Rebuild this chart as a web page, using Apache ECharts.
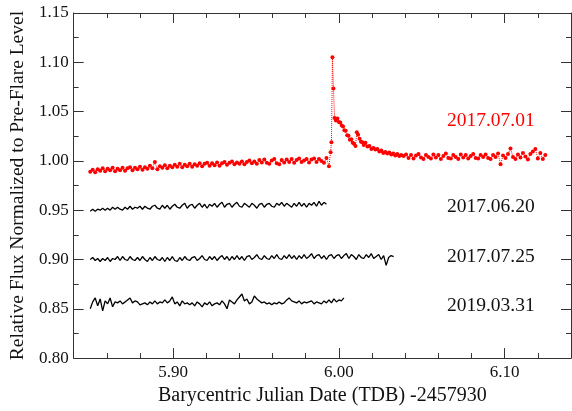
<!DOCTYPE html>
<html><head><meta charset="utf-8">
<script src="https://cdn.jsdelivr.net/npm/echarts@6/dist/echarts.min.js"></script>
<style>html,body{margin:0;padding:0;background:#fff}#c{width:572px;height:411px}</style>
</head><body><div id="c"></div>
<script>
// ---- data ----
const xMajorTicks = [5.90, 6.00, 6.10];
const xMinorTicks = [5.86, 5.88, 5.92, 5.94, 5.96, 5.98, 6.02, 6.04, 6.06, 6.08, 6.12];
const seriesNames = ['2017.07.01', '2017.06.20', '2017.07.25', '2019.03.31'];

const obsTime = [
5.8500,5.8515,5.8530,5.8545,5.8560,5.8575,5.8590,5.8605,5.8620,5.8635,
5.8650,5.8665,5.8680,5.8695,5.8710,5.8725,5.8740,5.8755,5.8770,5.8785,
5.8800,5.8815,5.8830,5.8845,5.8860,5.8875,5.8890,5.8905,5.8920,5.8935,
5.8950,5.8965,5.8980,5.8995,5.9010,5.9025,5.9040,5.9055,5.9070,5.9085,
5.9100,5.9115,5.9130,5.9145,5.9160,5.9175,5.9190,5.9205,5.9220,5.9235,
5.9250,5.9265,5.9280,5.9295,5.9310,5.9325,5.9340,5.9355,5.9370,5.9385,
5.9400,5.9415,5.9430,5.9445,5.9460,5.9475,5.9490,5.9505,5.9520,5.9535,
5.9550,5.9565,5.9580,5.9595,5.9610,5.9625,5.9640,5.9655,5.9670,5.9685,
5.9700,5.9715,5.9730,5.9745,5.9760,5.9775,5.9790,5.9805,5.9820,5.9835,
5.9850,5.9865,5.9880,5.9895,5.9910,5.9925,5.9940,5.9955,5.9970,5.9985,
6.0000,6.0015,6.0030,6.0045,6.0060,6.0075,6.0090,6.0105,6.0120,6.0135,
6.0150,6.0165,6.0180,6.0195,6.0210,6.0225,6.0240,6.0255,6.0270,6.0285,
6.0300,6.0315,6.0330];

// 2017.07.01 (flare night) - pre-flare part on obsTime grid
const redPreFlux = [
0.9890,0.9910,0.9885,0.9915,0.9900,0.9925,0.9895,0.9920,0.9905,0.9930,
0.9895,0.9920,0.9905,0.9930,0.9900,0.9925,0.9935,0.9905,0.9930,0.9915,
0.9940,0.9910,0.9935,0.9920,0.9950,0.9925,0.9990,0.9915,0.9945,0.9930,
0.9955,0.9925,0.9950,0.9935,0.9960,0.9940,0.9970,0.9935,0.9960,0.9945,
0.9970,0.9940,0.9965,0.9950,0.9975,0.9945,0.9970,0.9980,0.9950,0.9975,
0.9955,0.9985,0.9950,0.9975,0.9990,0.9960,0.9980,0.9995,0.9965,0.9985,
0.9970,0.9995,0.9965,0.9990,1.0005,0.9975,0.9995,0.9970,1.0010,0.9985,
1.0015,0.9980,0.9970,1.0005,1.0020,0.9975,0.9965,1.0010,0.9985,1.0015,
0.9990,1.0020,0.9980,1.0010,1.0025,0.9990,1.0005,1.0020,0.9985,1.0015,
1.0025,0.9990,1.0020,1.0000,0.9980,1.0030,0.9946];

// flare and decay
const redFlareTime = [
5.9950,5.9955,5.9961,5.9967,5.9974,5.9982,5.9991,6.0000,6.0008,6.0017,
6.0025,6.0033,6.0041,6.0050,6.0058,6.0066,6.0075,6.0083,6.0091,6.0100,
6.0108,6.0116,6.0125,6.0133,6.0141,6.0150,6.0160,6.0172,6.0184,6.0196,
6.0208,6.0220,6.0232,6.0244,6.0256,6.0268,6.0280,6.0292,6.0304,6.0316,
6.0328,6.0340,6.0352,6.0364,6.0376];
const redFlareFlux = [
1.0088,1.0188,1.1050,1.0735,1.0436,1.0410,1.0430,1.0395,1.0390,1.0360,
1.0350,1.0310,1.0305,1.0260,1.0255,1.0215,1.0220,1.0185,1.0175,1.0150,
1.0290,1.0265,1.0225,1.0195,1.0190,1.0160,1.0185,1.0145,1.0150,1.0120,
1.0130,1.0115,1.0120,1.0095,1.0105,1.0080,1.0090,1.0075,1.0085,1.0065,
1.0075,1.0055,1.0070,1.0050,1.0060];

// post-flare plateau
const redPostTime = [
6.0390,6.0405,6.0420,6.0435,6.0450,6.0465,6.0480,6.0495,6.0510,6.0525,
6.0540,6.0555,6.0570,6.0585,6.0600,6.0615,6.0630,6.0645,6.0660,6.0675,
6.0690,6.0705,6.0720,6.0735,6.0750,6.0765,6.0780,6.0795,6.0810,6.0825,
6.0840,6.0855,6.0870,6.0885,6.0900,6.0915,6.0930,6.0945,6.0960,6.0975,
6.0990,6.1005,6.1020,6.1035,6.1050,6.1065,6.1080,6.1095,6.1110,6.1125,
6.1140,6.1155,6.1170,6.1185,6.1200,6.1215,6.1230,6.1245];
const redPostFlux = [
1.0050,1.0065,1.0030,1.0060,1.0025,1.0055,1.0070,1.0035,1.0020,1.0060,
1.0040,1.0025,1.0065,1.0035,1.0060,1.0020,1.0050,1.0075,1.0030,1.0025,
1.0060,1.0040,1.0020,1.0065,1.0035,1.0060,1.0025,1.0050,1.0070,1.0030,
1.0025,1.0060,1.0040,1.0065,1.0030,1.0020,1.0060,1.0040,1.0075,0.9966,
1.0055,1.0030,1.0070,1.0125,1.0040,1.0020,1.0065,1.0035,1.0080,1.0045,
1.0015,1.0070,1.0095,1.0120,1.0025,1.0080,1.0020,1.0060];

const flux20170620 = [
0.949,0.951,0.949,0.951,0.950,0.952,0.950,0.952,0.950,0.953,
0.951,0.953,0.951,0.950,0.953,0.951,0.954,0.951,0.953,0.952,
0.954,0.951,0.954,0.952,0.951,0.954,0.955,0.952,0.951,0.955,
0.952,0.955,0.951,0.954,0.956,0.953,0.952,0.955,0.957,0.952,
0.955,0.956,0.952,0.955,0.957,0.953,0.956,0.952,0.956,0.954,
0.957,0.953,0.956,0.958,0.953,0.956,0.957,0.953,0.956,0.958,
0.954,0.953,0.957,0.955,0.953,0.957,0.955,0.952,0.956,0.957,
0.953,0.956,0.957,0.954,0.953,0.957,0.955,0.958,0.954,0.957,
0.955,0.953,0.957,0.954,0.958,0.954,0.957,0.953,0.957,0.955,
0.958,0.954,0.959,0.955,0.958,0.956];

const flux20170725 = [
0.900,0.902,0.899,0.901,0.898,0.901,0.899,0.902,0.898,0.901,
0.900,0.903,0.899,0.903,0.900,0.899,0.903,0.900,0.899,0.902,
0.899,0.903,0.900,0.898,0.902,0.899,0.903,0.900,0.899,0.902,
0.898,0.902,0.899,0.903,0.899,0.898,0.902,0.899,0.903,0.900,
0.899,0.902,0.903,0.899,0.901,0.904,0.900,0.899,0.903,0.900,
0.903,0.899,0.902,0.904,0.900,0.903,0.899,0.903,0.900,0.904,
0.900,0.903,0.899,0.903,0.904,0.900,0.902,0.905,0.901,0.900,
0.904,0.901,0.900,0.904,0.901,0.905,0.901,0.900,0.904,0.901,
0.905,0.901,0.904,0.900,0.904,0.901,0.905,0.901,0.903,0.906,
0.901,0.904,0.905,0.901,0.904,0.900,0.904,0.905,0.901,0.904,
0.905,0.901,0.904,0.906,0.901,0.905,0.903,0.900,0.905,0.902,
0.901,0.905,0.902,0.906,0.901,0.903,0.905,0.900,0.904,0.894,
0.902,0.904,0.903];

const flux20190331 = [
0.850,0.857,0.861,0.853,0.860,0.848,0.858,0.855,0.861,0.852,0.857,
0.856,0.858,0.855,0.857,0.859,0.861,0.856,0.858,0.857,0.854,
0.855,0.856,0.854,0.857,0.855,0.858,0.855,0.857,0.856,0.859,
0.856,0.858,0.862,0.855,0.857,0.853,0.858,0.855,0.856,0.854,
0.856,0.853,0.857,0.855,0.852,0.856,0.854,0.857,0.853,0.855,
0.856,0.854,0.858,0.855,0.850,0.859,0.857,0.855,0.859,0.862,
0.865,0.858,0.860,0.855,0.857,0.863,0.860,0.858,0.856,0.857,
0.855,0.856,0.854,0.856,0.855,0.857,0.855,0.856,0.859,0.861,
0.858,0.857,0.856,0.858,0.855,0.857,0.856,0.857,0.858,0.855,
0.857,0.856,0.855,0.858,0.856,0.859,0.856,0.860,0.857,0.859,0.858,0.861];

// ---- build ----
function zip(t, v) { return v.map((y, i) => [t[i], y]); }
const redData = zip(obsTime, redPreFlux)
  .concat(zip(redFlareTime, redFlareFlux))
  .concat(zip(redPostTime, redPostFlux));

const FONT = 'Liberation Serif';
const AX = '#333';
const X_MIN = 5.84, X_MAX = 6.14, Y_MIN = 0.80, Y_MAX = 1.15;

function xAx(pos, ticks, len, line, withLabels, nameCfg) {
  return Object.assign({
    type: 'value', min: X_MIN, max: X_MAX, position: pos,
    axisLine: { show: line, onZero: false, lineStyle: { color: AX, width: 1 } },
    axisTick: { show: true, inside: true, length: len, customValues: ticks, lineStyle: { color: AX, width: 1 } },
    axisLabel: withLabels
      ? { show: true, customValues: ticks, formatter: v => Number(v).toFixed(2), fontFamily: FONT, fontSize: 17, color: '#111', margin: 6 }
      : { show: false },
    splitLine: { show: false }
  }, nameCfg || {});
}

const xAxes = [
  xAx('bottom', xMajorTicks, 10, true, true, {
    name: 'Barycentric Julian Date (TDB) -2457930', nameLocation: 'middle', nameGap: 26,
    nameTextStyle: { fontFamily: FONT, fontSize: 20, color: '#111' }
  }),
  xAx('bottom', xMinorTicks, 5, false, false),
  xAx('top', xMajorTicks, 10, true, false),
  xAx('top', xMinorTicks, 5, false, false)
];

function yAx(pos, withLabels, nameCfg) {
  return Object.assign({
    type: 'value', min: Y_MIN, max: Y_MAX, interval: 0.05, position: pos,
    axisLine: { show: true, onZero: false, lineStyle: { color: AX, width: 1 } },
    axisTick: { show: true, inside: true, length: 10, lineStyle: { color: AX, width: 1 } },
    minorTick: { show: true, splitNumber: 2, length: 5, lineStyle: { color: AX, width: 1 } },
    axisLabel: withLabels
      ? { show: true, formatter: v => Number(v).toFixed(2), fontFamily: FONT, fontSize: 17, color: '#111', margin: 5 }
      : { show: false },
    splitLine: { show: false }
  }, nameCfg || {});
}
const yAxes = [
  yAx('left', true, {
    name: 'Relative Flux Normalized to Pre-Flare Level', nameLocation: 'middle', nameGap: 44,
    nameTextStyle: { fontFamily: FONT, fontSize: 19.5, color: '#111' }
  }),
  yAx('right', false)
];

function tag(text, x, y, color) {
  return {
    symbol: 'circle', symbolSize: 1, silent: true,
    itemStyle: { color: 'rgba(0,0,0,0)' },
    label: { show: true, position: 'inside', formatter: text, fontFamily: FONT, fontSize: 19.5, color: color },
    data: [{ coord: [x, y] }]
  };
}

const option = {
  animation: false,
  grid: { left: 67, right: 1, top: 13, bottom: 46 },
  xAxis: xAxes,
  yAxis: yAxes,
  series: [
    { name: seriesNames[0], type: 'line', data: redData, symbol: 'circle', symbolSize: 4, showAllSymbol: true,
      itemStyle: { color: '#ff0000' }, lineStyle: { color: '#ff0000', width: 1, type: 'dotted' }, z: 3,
      markPoint: tag(seriesNames[0], 6.0916, 1.0410, '#ff0000') },
    { name: seriesNames[1], type: 'line', data: zip(obsTime, flux20170620), showSymbol: false,
      lineStyle: { color: '#000', width: 1.3 }, itemStyle: { color: '#000' },
      markPoint: tag(seriesNames[1], 6.0916, 0.9532, '#111') },
    { name: seriesNames[2], type: 'line', data: zip(obsTime, flux20170725), showSymbol: false,
      lineStyle: { color: '#000', width: 1.3 }, itemStyle: { color: '#000' },
      markPoint: tag(seriesNames[2], 6.0916, 0.9025, '#111') },
    { name: seriesNames[3], type: 'line', data: zip(obsTime, flux20190331), showSymbol: false,
      lineStyle: { color: '#000', width: 1.3 }, itemStyle: { color: '#000' },
      markPoint: tag(seriesNames[3], 6.0916, 0.8528, '#111') }
  ]
};
const chart = echarts.init(document.getElementById('c'));
chart.setOption(option);
</script></body></html>
